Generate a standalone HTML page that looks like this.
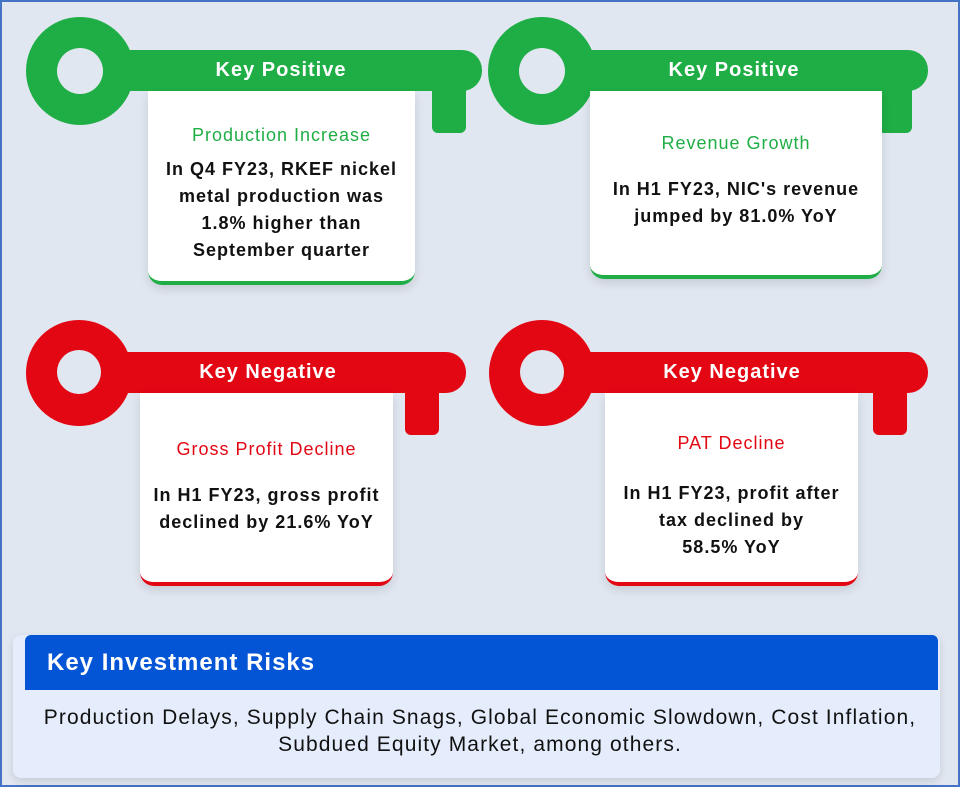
<!DOCTYPE html>
<html><head><meta charset="utf-8"><style>
*{margin:0;padding:0;box-sizing:border-box}
body{width:960px;height:787px;background:#e1e7f1;position:relative;overflow:hidden;font-family:"Liberation Sans",sans-serif;font-weight:bold}
.frame{position:absolute;left:0;top:0;width:960px;height:787px;border:2px solid #4472c4}
.abs{position:absolute}
.ring{position:absolute;border-radius:50%}
.hole{position:absolute;border-radius:50%;background:#e1e7f1}
.bar{position:absolute;border-radius:0 20px 20px 0;color:#fff;font-size:20px;letter-spacing:1px;text-align:center;line-height:41px}
.tooth{position:absolute;border-radius:0 0 6px 6px}
.card{position:absolute;background:#fff;border-radius:0 0 14px 14px;text-align:center;box-shadow:0 4px 10px rgba(0,0,0,.12);color:#111;white-space:nowrap}
.t{font-size:18px;font-weight:normal;letter-spacing:1px}
.b{font-size:18px;line-height:27px;letter-spacing:1px}
.g{background:#1fae45}.r{background:#e30613}
</style></head><body>
<div class="frame"></div>
<!-- key1 -->
<div class="ring g" style="left:26px;top:17px;width:108px;height:108px"></div>
<div class="hole" style="left:57px;top:48px;width:46px;height:46px"></div>
<div class="tooth g" style="left:432px;top:85px;width:34px;height:48px"></div>
<div class="bar g" style="left:120px;top:50px;width:362px;height:41px;padding-right:40px">Key Positive</div>
<div class="card" style="left:148px;top:91px;width:267px;height:194px;border-bottom:4px solid #1fae45">
<div class="t" style="color:#1fae45;margin-top:34px">Production Increase</div>
<div class="b" style="margin-top:10px">In Q4 FY23, RKEF nickel<br>metal production was<br>1.8% higher than<br>September quarter</div></div>
<!-- key2 -->
<div class="ring g" style="left:488px;top:17px;width:108px;height:108px"></div>
<div class="hole" style="left:519px;top:48px;width:46px;height:46px"></div>
<div class="tooth g" style="left:878px;top:85px;width:34px;height:48px"></div>
<div class="bar g" style="left:580px;top:50px;width:348px;height:41px;padding-right:40px">Key Positive</div>
<div class="card" style="left:590px;top:91px;width:292px;height:188px;border-bottom:4px solid #1fae45">
<div class="t" style="color:#1fae45;margin-top:42px">Revenue Growth</div>
<div class="b" style="margin-top:22px">In H1 FY23, NIC's revenue<br>jumped by 81.0% YoY</div></div>
<!-- key3 -->
<div class="ring r" style="left:26px;top:320px;width:106px;height:106px"></div>
<div class="hole" style="left:57px;top:350px;width:44px;height:44px"></div>
<div class="tooth r" style="left:405px;top:386px;width:34px;height:49px"></div>
<div class="bar r" style="left:118px;top:352px;width:348px;height:41px;padding-right:48px">Key Negative</div>
<div class="card" style="left:140px;top:393px;width:253px;height:193px;border-bottom:4px solid #e30613">
<div class="t" style="color:#e30613;margin-top:46px">Gross Profit Decline</div>
<div class="b" style="margin-top:22px">In H1 FY23, gross profit<br>declined by 21.6% YoY</div></div>
<!-- key4 -->
<div class="ring r" style="left:489px;top:320px;width:106px;height:106px"></div>
<div class="hole" style="left:520px;top:350px;width:44px;height:44px"></div>
<div class="tooth r" style="left:873px;top:386px;width:34px;height:49px"></div>
<div class="bar r" style="left:580px;top:352px;width:348px;height:41px;padding-right:44px">Key Negative</div>
<div class="card" style="left:605px;top:393px;width:253px;height:193px;border-bottom:4px solid #e30613">
<div class="t" style="color:#e30613;margin-top:40px">PAT Decline</div>
<div class="b" style="margin-top:26px">In H1 FY23, profit after<br>tax declined by<br>58.5% YoY</div></div>
<!-- bottom -->
<div class="abs" style="left:13px;top:635px;width:927px;height:143px;background:#e5edfc;border-radius:8px;box-shadow:0 3px 8px rgba(0,0,0,.12)"></div>
<div class="abs" style="left:25px;top:635px;width:913px;height:55px;background:#0455d6;color:#fff;font-size:24px;letter-spacing:1px;line-height:55px;padding-left:22px;border-radius:6px 6px 0 0">Key Investment Risks</div>
<div class="abs" style="left:0;top:704px;width:960px;text-align:center;font-size:21px;letter-spacing:1.1px;line-height:27px;font-weight:normal;color:#111;white-space:nowrap">Production Delays, Supply Chain Snags, Global Economic Slowdown, Cost Inflation,<br>Subdued Equity Market, among others.</div>
</body></html>
